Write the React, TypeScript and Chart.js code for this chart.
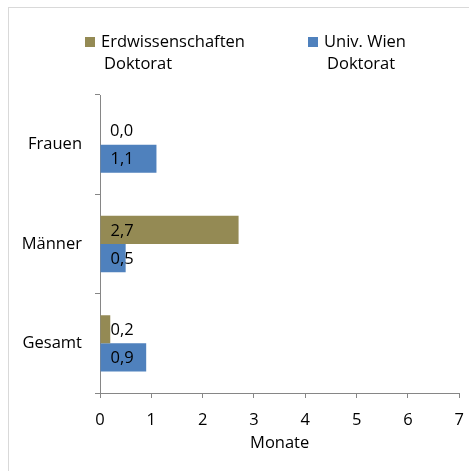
import React, { useEffect, useRef } from "react";
import { Chart, registerables } from "chart.js";

Chart.register(...registerables);

const categories = ["Frauen", "Männer", "Gesamt"];
const erdValues = [0.0, 2.7, 0.2];
const uniValues = [1.1, 0.5, 0.9];
const seriesNames = [["Erdwissenschaften", "Doktorat"], ["Univ. Wien", "Doktorat"]];
const xTickMax = 7;
const xTitle = "Monate";

const OLIVE = "#948A54";
const BLUE = "#4F81BD";
const AXIS = "#868686";
const FONT = "'Open Sans', sans-serif";
const FS = 16.5;

const labelPlugin = {
  id: "barLabels",
  afterDatasetsDraw(chart: any) {
    const ctx = chart.ctx;
    ctx.save();
    ctx.font = `${FS}px ${FONT}`;
    ctx.fillStyle = "#000";
    ctx.textAlign = "left";
    ctx.textBaseline = "middle";
    chart.data.datasets.forEach((ds: any, di: number) => {
      const meta = chart.getDatasetMeta(di);
      meta.data.forEach((el: any, i: number) => {
        const v = ds.data[i] as number;
        const txt = v.toFixed(1).replace(".", ",");
        ctx.fillText(txt, el.base + 10, el.y + 1);
      });
    });
    ctx.restore();
  },
};

const legendPlugin = {
  id: "customLegend",
  afterDraw(chart: any) {
    const ctx = chart.ctx;
    ctx.save();
    ctx.font = `${FS}px ${FONT}`;
    ctx.fillStyle = "#000";
    ctx.textAlign = "left";
    ctx.textBaseline = "middle";
    const items = [
      { sx: 76, color: OLIVE, lines: seriesNames[0] },
      { sx: 299, color: BLUE, lines: seriesNames[1] },
    ];
    items.forEach((it) => {
      ctx.fillStyle = it.color;
      ctx.fillRect(it.sx, 29, 10, 10);
      ctx.fillStyle = "#000";
      ctx.fillText(it.lines[0], it.sx + 16, 34);
      ctx.fillText(it.lines[1], it.sx + 19, 56);
    });
    ctx.restore();
  },
};

export default function App() {
  const ref = useRef<HTMLCanvasElement | null>(null);
  useEffect(() => {
    if (!ref.current) return;
    const chart = new Chart(ref.current, {
      type: "bar",
      data: {
        labels: categories,
        datasets: [
          { label: seriesNames[0].join(" "), data: erdValues, backgroundColor: OLIVE, categoryPercentage: 0.567, barPercentage: 1 },
          { label: seriesNames[1].join(" "), data: uniValues, backgroundColor: BLUE, categoryPercentage: 0.567, barPercentage: 1 },
        ],
      },
      options: {
        indexAxis: "y",
        animation: false,
        responsive: false,
        layout: { padding: { top: 87, right: 0, left: 0, bottom: 0 } },
        plugins: { legend: { display: false }, tooltip: { enabled: false } },
        scales: {
          x: {
            min: 0,
            max: xTickMax,
            ticks: { stepSize: 1, color: "#000", font: { family: FONT, size: FS }, padding: 12 },
            grid: { drawOnChartArea: false, drawTicks: true, tickLength: 5, color: AXIS },
            border: { display: true, color: AXIS },
            title: { display: true, text: xTitle, color: "#000", font: { family: FONT, size: FS }, padding: { top: 4, bottom: 18 } },
            afterFit(scale: any) { scale.height = 78; },
          },
          y: {
            offset: true,
            ticks: { color: "#000", font: { family: FONT, size: FS }, padding: 13 },
            grid: { offset: true, drawOnChartArea: false, drawTicks: true, tickLength: 5, color: AXIS },
            border: { display: true, color: AXIS },
            afterFit(scale: any) { scale.width = 91; },
          },
        },
      },
      plugins: [labelPlugin, legendPlugin],
    });
    return () => chart.destroy();
  }, []);
  return (
    <div style={{ position: "fixed", left: 8, top: 7, borderTop: "1px solid #d9d9d9", borderLeft: "1px solid #d9d9d9", width: 460, height: 463, overflow: "hidden" }}>
      <canvas ref={ref} width={467} height={463} style={{ display: "block" }} />
    </div>
  );
}
